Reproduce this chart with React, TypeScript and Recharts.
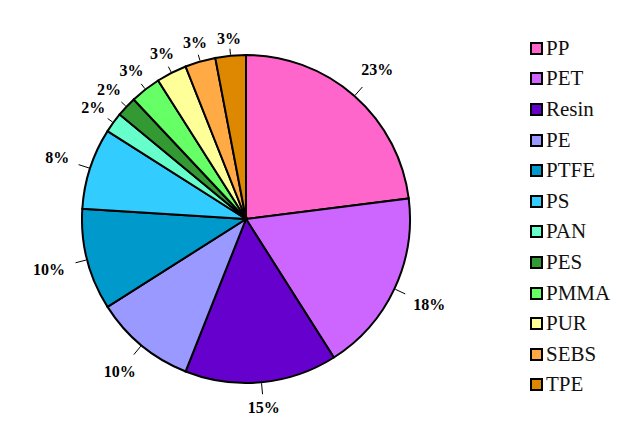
import React from "react";
import { PieChart, Pie, Cell } from "recharts";

const categories = ["PP", "PET", "Resin", "PE", "PTFE", "PS", "PAN", "PES", "PMMA", "PUR", "SEBS", "TPE"];
const shares = [23, 18, 15, 10, 10, 8, 2, 2, 3, 3, 3, 3];
const colors = ["#FF66CC", "#CC66FF", "#6600CC", "#9999FF", "#0099CC", "#33CCFF", "#66FFCC", "#339933", "#66FF66", "#FFFF99", "#FFAA44", "#DD8800"];

const data = categories.map((name, i) => ({ name, value: shares[i] }));
const RAD = Math.PI / 180;

const renderLabel = (props: any) => {
  const { cx, cy, midAngle, outerRadius, value } = props;
  const c = Math.cos(-midAngle * RAD);
  const s = Math.sin(-midAngle * RAD);
  const small = value <= 3;
  const halfW = value >= 10 ? 16 : 11;
  const lr = outerRadius + (small ? 16 : 24) + halfW * Math.abs(c);
  const x1 = cx + (outerRadius + 1) * c;
  const y1 = cy + (outerRadius + 1) * s;
  const x2 = cx + (outerRadius + (small ? 7 : 12)) * c;
  const y2 = cy + (outerRadius + (small ? 7 : 12)) * s;
  const tx = cx + lr * c;
  const ty = cy + lr * s;
  return (
    <g>
      <line x1={x1} y1={y1} x2={x2} y2={y2} stroke="#000" strokeWidth={1} />
      <text x={tx} y={ty + 5} textAnchor="middle" fontFamily="serif" fontWeight="bold" fontSize={16} fill="#000">
        {value}%
      </text>
    </g>
  );
};

export default function App() {
  return (
    <div style={{ position: "relative", width: 627, height: 428 }}>
      <PieChart width={627} height={428} margin={{ top: 0, right: 0, bottom: 0, left: 0 }}>
        <Pie
          data={data}
          dataKey="value"
          nameKey="name"
          cx={238}
          cy={211}
          outerRadius={164}
          startAngle={90}
          endAngle={-270}
          stroke="#000"
          strokeWidth={2}
          label={renderLabel}
          labelLine={false}
          isAnimationActive={false}
        >
          {data.map((d, i) => (
            <Cell key={d.name} fill={colors[i]} />
          ))}
        </Pie>
      </PieChart>
      <div style={{ position: "absolute", left: 522, top: 25, width: 110, fontFamily: "serif", fontSize: 21, color: "#111" }}>
        {categories.map((name, i) => (
          <div key={name} style={{ display: "flex", alignItems: "center", height: 30.6 }}>
            <span style={{ display: "inline-block", width: 9, height: 9, background: colors[i], border: "2px solid #000", marginRight: 3 }} />
            <span>{name}</span>
          </div>
        ))}
      </div>
    </div>
  );
}
